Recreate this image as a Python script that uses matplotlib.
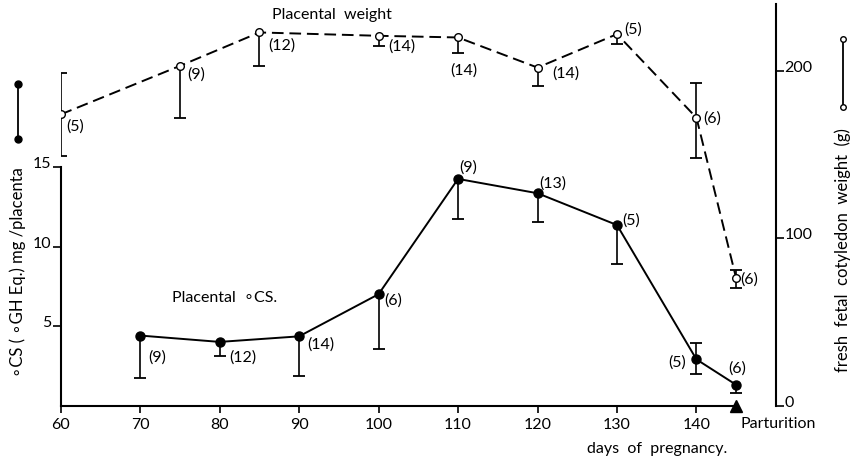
import matplotlib
matplotlib.use('Agg')
import matplotlib.pyplot as plt
from matplotlib.lines import Line2D
import numpy as np

plt.rcParams['font.family'] = ['Lato', 'DejaVu Sans']

# ---- data ----
# Placental weight (fresh fetal cotyledon weight, g) - right axis
pw_days = [60, 75, 85, 100, 110, 120, 130, 140, 145]
pw_mean = [174, 203, 223, 221, 220, 202, 222, 172, 76]
pw_err_lo = [25, 31, 20, 6, 9, 11, 6, 24, 6]
pw_err_hi = [25, 0, 0, 0, 0, 0, 0, 21, 5]
pw_n = ['(5)', '(9)', '(12)', '(14)', '(14)', '(14)', '(5)', '(6)', '(6)']

# Placental oCS (mg/placenta) - left axis
cs_days = [70, 80, 90, 100, 110, 120, 130, 140, 145]
cs_mean = [4.4, 4.0, 4.35, 7.0, 14.25, 13.35, 11.35, 2.9, 1.3]
cs_err_lo = [2.7, 0.9, 2.5, 3.45, 2.55, 1.8, 2.45, 0.9, 0.5]
cs_err_hi = [0, 0, 0, 0, 0, 0, 0, 1.05, 0]
cs_n = ['(9)', '(12)', '(14)', '(6)', '(9)', '(13)', '(5)', '(5)', '(6)']

x_ticks = [60, 70, 80, 90, 100, 110, 120, 130, 140]
left_ticks = [5, 10, 15]
right_ticks = [0, 100, 200]
parturition_day = 145

# ---- label placement (offset pixels, alignment) ----
pw_lab_style = [(6, -11, 'left'), (7, -8, 'left'), (9, -12, 'left'), (10, -10, 'left'),
                (6, -32, 'center'), (15, -5, 'left'), (7, 6, 'left'), (7, 0, 'left'),
                (4, 0, 'left')]
cs_lab_style = [(8, -21, 'left'), (10, -15, 'left'), (8, -7, 'left'), (6, -5, 'left'),
                (1, 12, 'left'), (2, 11, 'left'), (5, 5, 'left'), (-10, -2, 'right'),
                (1, 17, 'center')]

FS = 11.5
fig = plt.figure(figsize=(8.51, 4.64), dpi=100)
ax = fig.add_axes([0.0713, 0.1239, 0.8405, 0.8653])
ax.set_xlim(60, 150)
ax.set_ylim(0, 25.25)
ax2 = ax.twinx()
ax2.set_ylim(0, 240)
ax.set_zorder(2)
ax.patch.set_visible(False)

for s in ['top', 'right']:
    ax.spines[s].set_visible(False)
ax.spines['left'].set_bounds(0, 15)
ax.spines['bottom'].set_bounds(60, parturition_day)
for s in ['top', 'left', 'bottom']:
    ax2.spines[s].set_visible(False)
ax2.spines['right'].set_bounds(0, 240)
for sp in list(ax.spines.values()) + list(ax2.spines.values()):
    sp.set_linewidth(1.5)

ax.set_xticks(x_ticks)
ax.set_xticklabels([str(t) for t in x_ticks], fontsize=FS)
ax.tick_params(axis='x', direction='out', length=5, width=1.2, pad=3)
ax.set_yticks(left_ticks)
ax.set_yticklabels([str(t) for t in left_ticks], fontsize=FS)
ax.tick_params(axis='y', direction='out', length=6, width=1.2, pad=1)
for lab in ax.get_yticklabels():
    lab.set_va('baseline')
ax2.set_yticks(right_ticks)
ax2.set_yticklabels([str(t) for t in right_ticks], fontsize=FS)
ax2.tick_params(axis='y', direction='out', length=6, width=1.2, pad=0)
for lab in ax2.get_yticklabels():
    lab.set_va('baseline')

# Placental weight: dashed with open circles
ax2.vlines(pw_days, np.array(pw_mean) - np.array(pw_err_lo), np.array(pw_mean) + np.array(pw_err_hi),
           color='black', lw=1.2, zorder=2)
lo_mask = np.array(pw_err_lo) > 0
hi_mask = np.array(pw_err_hi) > 0
ax2.plot(np.array(pw_days)[lo_mask], (np.array(pw_mean) - np.array(pw_err_lo))[lo_mask], ls='none',
         marker='_', ms=8, mew=1.3, color='black')
ax2.plot(np.array(pw_days)[hi_mask], (np.array(pw_mean) + np.array(pw_err_hi))[hi_mask], ls='none',
         marker='_', ms=8, mew=1.3, color='black')
ax2.plot(pw_days, pw_mean, color='black', lw=1.4, ls=(0, (6, 3)), marker='o', ms=5.5,
         mfc='white', mec='black', mew=1.0, zorder=3)
for d, m, t, (dx, dy, ha) in zip(pw_days, pw_mean, pw_n, pw_lab_style):
    ax2.annotate(t, (d, m), xytext=(dx, dy), textcoords='offset pixels', ha=ha, va='center',
                 fontsize=FS)

# Placental oCS: solid with filled circles
ax.vlines(cs_days, np.array(cs_mean) - np.array(cs_err_lo), np.array(cs_mean) + np.array(cs_err_hi),
          color='black', lw=1.2, zorder=2)
lo_mask = np.array(cs_err_lo) > 0
hi_mask = np.array(cs_err_hi) > 0
ax.plot(np.array(cs_days)[lo_mask], (np.array(cs_mean) - np.array(cs_err_lo))[lo_mask], ls='none',
        marker='_', ms=8, mew=1.3, color='black')
ax.plot(np.array(cs_days)[hi_mask], (np.array(cs_mean) + np.array(cs_err_hi))[hi_mask], ls='none',
        marker='_', ms=8, mew=1.3, color='black')
ax.plot(cs_days, cs_mean, color='black', lw=1.4, ls='-', marker='o', ms=6.5,
        mfc='black', mec='black', zorder=3)
for d, m, t, (dx, dy, ha) in zip(cs_days, cs_mean, cs_n, cs_lab_style):
    ax.annotate(t, (d, m), xytext=(dx, dy), textcoords='offset pixels', ha=ha, va='center',
                fontsize=FS)

# Parturition marker
ax.plot([parturition_day], [0], marker='^', ms=8, color='black', clip_on=False, zorder=4)
ax.annotate('Parturition', (parturition_day, 0), xytext=(4, -17), textcoords='offset pixels',
            ha='left', va='center', fontsize=FS, annotation_clip=False)

# Series captions
fig.text(332 / 851, 1 - 15 / 464, 'Placental  weight', ha='center', va='center', fontsize=FS)
fig.text(225 / 851, 1 - 298 / 464, 'Placental  \u2218CS.', ha='center', va='center', fontsize=FS)

# Axis titles
fig.text(657 / 851, 1 - 449 / 464, 'days  of  pregnancy.', ha='center', va='center', fontsize=FS)
fig.text(18 / 851, 1 - 272 / 464, '\u2218CS ( \u2218GH Eq.) mg /placenta', rotation=90,
         ha='center', va='center', fontsize=12)
fig.add_artist(Line2D([18 / 851, 18 / 851], [1 - 85 / 464, 1 - 140 / 464], transform=fig.transFigure,
                      color='black', lw=1.3, marker='o', ms=5, mfc='black'))
fig.text(843 / 851, 1 - 250 / 464, 'fresh  fetal  cotyledon  weight  (g)', rotation=90,
         ha='center', va='center', fontsize=12)
fig.add_artist(Line2D([843 / 851, 843 / 851], [1 - 40 / 464, 1 - 108 / 464], transform=fig.transFigure,
                      color='black', lw=1.3, marker='o', ms=4, mfc='white'))

fig.savefig('out.png', dpi=100)
